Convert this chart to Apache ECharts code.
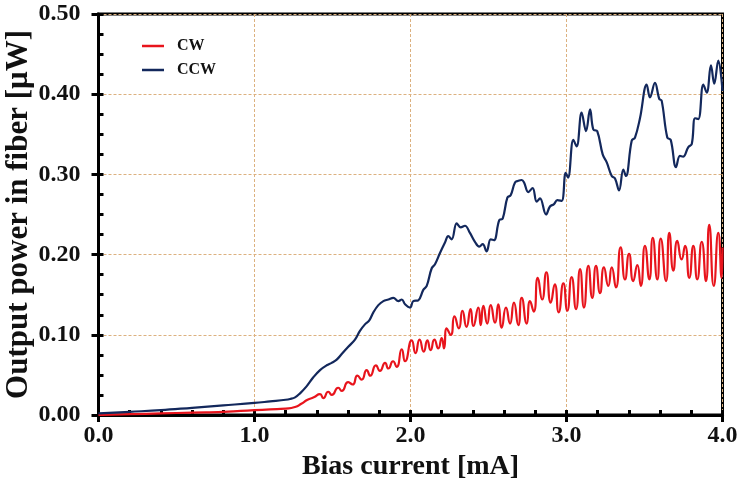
<!DOCTYPE html>
<html>
<head>
<meta charset="utf-8">
<script src="https://cdn.jsdelivr.net/npm/echarts@6/dist/echarts.min.js"></script>
<style>
html,body{margin:0;padding:0;background:#fff;}
#chart{width:738px;height:494px;}
</style>
</head>
<body>
<div id="chart"></div>
<script>
// ---- Data (x in mA, y in µW) ----
var seriesNames = ['CW', 'CCW'];
var xTicks = [0, 1, 2, 3, 4];
var yTicks = [0, 0.1, 0.2, 0.3, 0.4, 0.5];

var cwX = [0,0.2,0.4,0.6,0.8,1.0,1.1,1.2,1.26,1.30,1.34,1.38,1.420,1.441,1.473,1.495,1.537,1.559,1.601,1.629,1.660,1.687,1.719,1.742,1.778,1.804,1.837,1.858,1.888,1.911,1.944,1.965,2.008,2.032,2.058,2.085,2.108,2.129,2.153,2.178,2.200,2.215,2.232,2.258,2.282,2.310,2.333,2.359,2.385,2.403,2.435,2.450,2.467,2.492,2.514,2.542,2.563,2.585,2.612,2.638,2.663,2.691,2.713,2.745,2.766,2.790,2.816,2.844,2.871,2.899,2.925,2.950,2.980,3.005,3.033,3.061,3.087,3.112,3.140,3.165,3.189,3.215,3.240,3.268,3.290,3.317,3.347,3.375,3.401,3.428,3.454,3.476,3.503,3.531,3.553,3.582,3.604,3.638,3.659,3.685,3.710,3.738,3.760,3.787,3.813,3.838,3.867,3.894,3.915,3.944,3.973,3.994,4.000];
var cwY = [0.000,0.001,0.002,0.003,0.004,0.006,0.007,0.008,0.010,0.014,0.019,0.022,0.026,0.021,0.029,0.025,0.034,0.030,0.041,0.038,0.049,0.044,0.056,0.049,0.062,0.055,0.065,0.058,0.067,0.060,0.082,0.067,0.093,0.077,0.094,0.079,0.093,0.081,0.094,0.083,0.096,0.083,0.108,0.100,0.123,0.108,0.130,0.110,0.132,0.111,0.134,0.112,0.136,0.114,0.137,0.115,0.138,0.109,0.134,0.114,0.140,0.112,0.146,0.114,0.142,0.129,0.171,0.144,0.178,0.140,0.163,0.128,0.164,0.130,0.172,0.132,0.182,0.134,0.186,0.146,0.186,0.152,0.184,0.161,0.184,0.159,0.209,0.169,0.201,0.167,0.187,0.161,0.211,0.169,0.221,0.169,0.220,0.167,0.227,0.180,0.217,0.194,0.211,0.171,0.211,0.169,0.216,0.167,0.237,0.161,0.227,0.171,0.209];

var ccwX = [0,0.2,0.4,0.6,0.8,1.0,1.1,1.2,1.228,1.260,1.292,1.335,1.377,1.420,1.463,1.495,1.527,1.559,1.601,1.644,1.676,1.708,1.736,1.762,1.794,1.826,1.858,1.890,1.922,1.944,1.965,1.997,2.018,2.050,2.082,2.104,2.136,2.157,2.189,2.221,2.242,2.264,2.296,2.322,2.349,2.381,2.413,2.441,2.463,2.488,2.514,2.535,2.569,2.591,2.621,2.642,2.670,2.691,2.713,2.728,2.755,2.783,2.809,2.830,2.869,2.894,2.920,2.941,2.969,2.995,3.010,3.044,3.065,3.097,3.125,3.151,3.172,3.197,3.232,3.258,3.290,3.311,3.337,3.364,3.381,3.418,3.439,3.471,3.514,3.535,3.567,3.595,3.610,3.646,3.668,3.702,3.727,3.747,3.781,3.803,3.824,3.845,3.877,3.899,3.926,3.947,3.973,4.000];
var ccwY = [0.002,0.004,0.006,0.009,0.012,0.015,0.017,0.019,0.020,0.022,0.027,0.036,0.047,0.056,0.062,0.065,0.069,0.076,0.085,0.094,0.105,0.113,0.118,0.128,0.137,0.142,0.144,0.146,0.142,0.144,0.138,0.134,0.142,0.143,0.156,0.161,0.183,0.188,0.202,0.215,0.223,0.219,0.239,0.234,0.236,0.227,0.216,0.210,0.213,0.204,0.219,0.218,0.243,0.245,0.271,0.274,0.290,0.292,0.293,0.290,0.278,0.283,0.266,0.270,0.250,0.260,0.263,0.268,0.267,0.302,0.296,0.343,0.335,0.377,0.354,0.381,0.356,0.354,0.325,0.315,0.298,0.295,0.280,0.306,0.298,0.342,0.346,0.370,0.412,0.396,0.414,0.394,0.392,0.346,0.343,0.309,0.323,0.322,0.334,0.338,0.370,0.369,0.412,0.402,0.436,0.413,0.442,0.404];

function zip(xs, ys) { return xs.map(function (x, i) { return [x, ys[i]]; }); }

var FONT = '"Liberation Serif", "Times New Roman", serif';
var gridLine = { show: true, lineStyle: { color: '#dcb17f', type: [3, 2], width: 1 } };

var chart = echarts.init(document.getElementById('chart'), null, { renderer: 'canvas' });
chart.setOption({
  animation: false,
  backgroundColor: '#ffffff',
  grid: { left: 98.5, right: 15.5, top: 14, bottom: 79, containLabel: false, outerBoundsMode: 'none',
          show: true, borderColor: '#000', borderWidth: 3, backgroundColor: 'transparent' },
  legend: {
    orient: 'vertical', left: 137, top: 33,
    icon: 'rect', itemWidth: 22, itemHeight: 2.5, itemGap: 8,
    data: seriesNames,
    textStyle: { fontFamily: FONT, fontWeight: 'bold', fontSize: 16, color: '#111', padding: [0, 0, 0, 8] }
  },
  xAxis: [
    {
      type: 'value', min: xTicks[0], max: xTicks[xTicks.length - 1], interval: 1,
      name: 'Bias current [mA]', nameLocation: 'middle', nameGap: 38, nameMoveOverlap: false,
      nameTextStyle: { fontFamily: FONT, fontWeight: 'bold', fontSize: 28, color: '#111' },
      axisLine: { show: true, lineStyle: { color: '#000', width: 3 } },
      axisTick: { show: true, inside: false, length: 7, lineStyle: { color: '#000', width: 3 } },
      axisLabel: { margin: 9, fontFamily: FONT, fontWeight: 'bold', fontSize: 24, color: '#111', formatter: function (v) { return v.toFixed(1); } },
      splitLine: gridLine
    },
    {
      type: 'value', min: xTicks[0], max: xTicks[xTicks.length - 1], interval: 1, position: 'bottom',
      axisLine: { show: false },
      axisTick: { show: true, inside: true, length: 5, lineStyle: { color: '#000', width: 3 } },
      minorTick: { show: true, splitNumber: 5, length: 5, lineStyle: { color: '#000', width: 3 } },
      axisLabel: { show: false }, splitLine: { show: false }
    }
  ],
  yAxis: [
    {
      type: 'value', min: yTicks[0], max: yTicks[yTicks.length - 1], interval: 0.1,
      name: 'Output power in fiber [\u03bcW]', nameLocation: 'middle', nameGap: 64, nameMoveOverlap: false,
      nameTextStyle: { fontFamily: FONT, fontWeight: 'bold', fontSize: 31, color: '#111' },
      axisLine: { show: true, lineStyle: { color: '#000', width: 3 } },
      axisTick: { show: true, inside: false, length: 7, lineStyle: { color: '#000', width: 3 } },
      axisLabel: { margin: 18, fontFamily: FONT, fontWeight: 'bold', fontSize: 24, color: '#111', formatter: function (v) { return v.toFixed(2); } },
      splitLine: gridLine
    },
    {
      type: 'value', min: yTicks[0], max: yTicks[yTicks.length - 1], interval: 0.1, position: 'left',
      axisLine: { show: false },
      axisTick: { show: true, inside: true, length: 5, lineStyle: { color: '#000', width: 3 } },
      minorTick: { show: true, splitNumber: 4, length: 5, lineStyle: { color: '#000', width: 3 } },
      axisLabel: { show: false }, splitLine: { show: false }
    }
  ],
  series: [
    {
      name: seriesNames[0], type: 'line', data: zip(cwX, cwY), showSymbol: false, smooth: 0.6,
      lineStyle: { color: '#e8141c', width: 2.2 }, itemStyle: { color: '#e8141c' }, z: 3
    },
    {
      name: seriesNames[1], type: 'line', data: zip(ccwX, ccwY), showSymbol: false, smooth: 0.4,
      lineStyle: { color: '#13285c', width: 2.2 }, itemStyle: { color: '#13285c' }, z: 4
    }
  ]
});
</script>
</body>
</html>
